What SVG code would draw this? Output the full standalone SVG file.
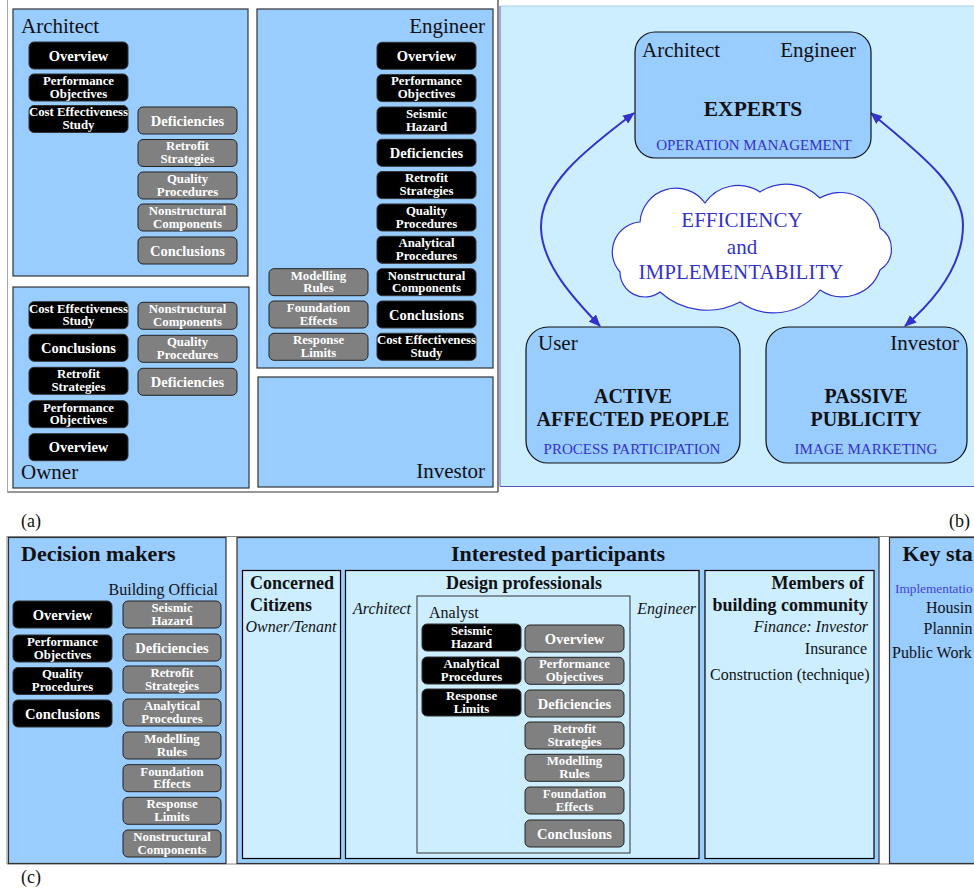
<svg xmlns="http://www.w3.org/2000/svg" width="974" height="889" viewBox="0 0 974 889">
<defs>
<style>
text{font-family:"Liberation Serif","Times New Roman",serif;}
.p1{fill:#99ccff;stroke:#333;stroke-width:1.2}
.p2{fill:#cceeff;stroke:#000;stroke-width:1.2}
.bk{fill:#000;stroke:#333;stroke-width:1}
.gy{fill:#808080;stroke:#222;stroke-width:1}
.t1{font-size:14.5px;font-weight:bold;fill:#fff;text-anchor:middle}
.t2{font-size:12.8px;font-weight:bold;fill:#fff;text-anchor:middle}
.lbl{font-size:21px;fill:#111}
.big{font-size:20px;font-weight:bold;fill:#111;text-anchor:middle}
.blue{font-size:15px;fill:#3333cc;text-anchor:middle}
.cl{font-size:21px;fill:#3333cc;text-anchor:middle}
.h1{font-size:22px;font-weight:bold;fill:#111}
.h2{font-size:18px;font-weight:bold;fill:#111}
.r16{font-size:16px;fill:#111}
.i16{font-size:16px;font-style:italic;fill:#111}
.cap{font-size:18px;fill:#111}
.arr{fill:none;stroke:#3333cc;stroke-width:2}
</style>
<marker id="ah" viewBox="0 0 12 10" refX="11" refY="5" markerWidth="12" markerHeight="10" markerUnits="userSpaceOnUse" orient="auto-start-reverse">
<path d="M0,0 L12,5 L0,10 z" fill="#3333cc"/>
</marker>
</defs>
<rect width="974" height="889" fill="#fff"/>

<!-- (a) frame -->
<g id="frame-a">
<line x1="7.5" y1="0" x2="7.5" y2="492" stroke="#aaa" stroke-width="1"/>
<line x1="7.5" y1="492" x2="498" y2="492" stroke="#333" stroke-width="1.2"/>
<line x1="498" y1="0" x2="498" y2="492" stroke="#333" stroke-width="1.2"/>
</g>

<g id="panel-architect">
<rect class="p1" x="13" y="9" width="235" height="267"/>
<text class="lbl" x="21" y="33">Architect</text>
</g>
<g id="a-arch-overview"><rect class="bk" x="29" y="42" width="99" height="27" rx="5"/><text class="t1" x="78.5" y="60.5">Overview</text></g>
<g id="a-arch-perf"><rect class="bk" x="29" y="74" width="99" height="27" rx="5"/><text class="t2" x="78.5" y="84.8">Performance</text><text class="t2" x="78.5" y="97.5">Objectives</text></g>
<g id="a-arch-cost"><rect class="bk" x="29" y="105.5" width="99" height="27" rx="5"/><text class="t2" x="78.5" y="116.3">Cost Effectiveness</text><text class="t2" x="78.5" y="129">Study</text></g>
<g id="a-arch-def"><rect class="gy" x="138" y="107" width="99" height="27" rx="5"/><text class="t1" x="187.5" y="125.5">Deficiencies</text></g>
<g id="a-arch-retro"><rect class="gy" x="138" y="139.5" width="99" height="27" rx="5"/><text class="t2" x="187.5" y="150.3">Retrofit</text><text class="t2" x="187.5" y="163">Strategies</text></g>
<g id="a-arch-qual"><rect class="gy" x="138" y="172" width="99" height="27" rx="5"/><text class="t2" x="187.5" y="182.8">Quality</text><text class="t2" x="187.5" y="195.5">Procedures</text></g>
<g id="a-arch-nonstr"><rect class="gy" x="138" y="204" width="99" height="27" rx="5"/><text class="t2" x="187.5" y="214.8">Nonstructural</text><text class="t2" x="187.5" y="227.5">Components</text></g>
<g id="a-arch-concl"><rect class="gy" x="138" y="237" width="99" height="27" rx="5"/><text class="t1" x="187.5" y="255.5">Conclusions</text></g>

<g id="panel-engineer">
<rect class="p1" x="257" y="9" width="236" height="359"/>
<text class="lbl" x="485" y="33" text-anchor="end">Engineer</text>
</g>
<g id="a-eng-overview"><rect class="bk" x="377" y="42.3" width="99" height="27" rx="5"/><text class="t1" x="426.5" y="60.8">Overview</text></g>
<g id="a-eng-perf"><rect class="bk" x="377" y="74.6" width="99" height="27" rx="5"/><text class="t2" x="426.5" y="85.4">Performance</text><text class="t2" x="426.5" y="98.1">Objectives</text></g>
<g id="a-eng-seis"><rect class="bk" x="377" y="107" width="99" height="27" rx="5"/><text class="t2" x="426.5" y="117.8">Seismic</text><text class="t2" x="426.5" y="130.5">Hazard</text></g>
<g id="a-eng-def"><rect class="bk" x="377" y="139.3" width="99" height="27" rx="5"/><text class="t1" x="426.5" y="157.8">Deficiencies</text></g>
<g id="a-eng-retro"><rect class="bk" x="377" y="171.6" width="99" height="27" rx="5"/><text class="t2" x="426.5" y="182.4">Retrofit</text><text class="t2" x="426.5" y="195.1">Strategies</text></g>
<g id="a-eng-qual"><rect class="bk" x="377" y="204" width="99" height="27" rx="5"/><text class="t2" x="426.5" y="214.8">Quality</text><text class="t2" x="426.5" y="227.5">Procedures</text></g>
<g id="a-eng-anal"><rect class="bk" x="377" y="236.3" width="99" height="27" rx="5"/><text class="t2" x="426.5" y="247.1">Analytical</text><text class="t2" x="426.5" y="259.8">Procedures</text></g>
<g id="a-eng-nonstr"><rect class="bk" x="377" y="268.7" width="99" height="27" rx="5"/><text class="t2" x="426.5" y="279.5">Nonstructural</text><text class="t2" x="426.5" y="292.2">Components</text></g>
<g id="a-eng-concl"><rect class="bk" x="377" y="301" width="99" height="27" rx="5"/><text class="t1" x="426.5" y="319.5">Conclusions</text></g>
<g id="a-eng-cost"><rect class="bk" x="377" y="333.3" width="99" height="27" rx="5"/><text class="t2" x="426.5" y="344.1">Cost Effectiveness</text><text class="t2" x="426.5" y="356.8">Study</text></g>
<g id="a-eng-model"><rect class="gy" x="269" y="268.7" width="99" height="27" rx="5"/><text class="t2" x="318.5" y="279.5">Modelling</text><text class="t2" x="318.5" y="292.2">Rules</text></g>
<g id="a-eng-found"><rect class="gy" x="269" y="301" width="99" height="27" rx="5"/><text class="t2" x="318.5" y="311.8">Foundation</text><text class="t2" x="318.5" y="324.5">Effects</text></g>
<g id="a-eng-resp"><rect class="gy" x="269" y="333.3" width="99" height="27" rx="5"/><text class="t2" x="318.5" y="344.1">Response</text><text class="t2" x="318.5" y="356.8">Limits</text></g>

<g id="panel-investor-a">
<rect class="p1" x="258" y="377" width="235" height="110"/>
<text class="lbl" x="485" y="478" text-anchor="end">Investor</text>
</g>

<g id="panel-owner">
<rect class="p1" x="13" y="287" width="236" height="201"/>
<text class="lbl" x="21" y="479">Owner</text>
</g>
<g id="a-own-cost"><rect class="bk" x="29" y="301.7" width="99" height="27" rx="5"/><text class="t2" x="78.5" y="312.5">Cost Effectiveness</text><text class="t2" x="78.5" y="325.2">Study</text></g>
<g id="a-own-concl"><rect class="bk" x="29" y="334.3" width="99" height="27" rx="5"/><text class="t1" x="78.5" y="352.8">Conclusions</text></g>
<g id="a-own-retro"><rect class="bk" x="29" y="367.3" width="99" height="27" rx="5"/><text class="t2" x="78.5" y="378.1">Retrofit</text><text class="t2" x="78.5" y="390.8">Strategies</text></g>
<g id="a-own-perf"><rect class="bk" x="29" y="400.7" width="99" height="27" rx="5"/><text class="t2" x="78.5" y="411.5">Performance</text><text class="t2" x="78.5" y="424.2">Objectives</text></g>
<g id="a-own-overview"><rect class="bk" x="29" y="433.7" width="99" height="27" rx="5"/><text class="t1" x="78.5" y="452.2">Overview</text></g>
<g id="a-own-nonstr"><rect class="gy" x="138" y="302.3" width="99" height="27" rx="5"/><text class="t2" x="187.5" y="313.1">Nonstructural</text><text class="t2" x="187.5" y="325.8">Components</text></g>
<g id="a-own-qual"><rect class="gy" x="138" y="335.3" width="99" height="27" rx="5"/><text class="t2" x="187.5" y="346.1">Quality</text><text class="t2" x="187.5" y="358.8">Procedures</text></g>
<g id="a-own-def"><rect class="gy" x="138" y="368.3" width="99" height="27" rx="5"/><text class="t1" x="187.5" y="386.8">Deficiencies</text></g>

<text class="cap" x="21" y="527">(a)</text>

<!-- (b) -->
<g id="panel-b">
<rect x="500" y="6" width="480" height="480" fill="#cceeff"/>
<line x1="500" y1="6" x2="974" y2="6" stroke="#aaccf0" stroke-width="1"/>
<line x1="500" y1="6" x2="500" y2="486.5" stroke="#7777cc" stroke-width="1.2"/>
<line x1="500" y1="486.5" x2="974" y2="486.5" stroke="#5555bb" stroke-width="1.2"/>
</g>
<g id="connectors">
<path class="arr" d="M634,113 C585,150 540,185 541,228 C542,265 575,300 600,326" marker-start="url(#ah)" marker-end="url(#ah)"/>
<path class="arr" d="M871,113 C915,150 963,185 963,225 C963,265 935,300 905,326" marker-start="url(#ah)" marker-end="url(#ah)"/>
</g>
<g id="b-experts">
<rect x="635" y="32" width="236" height="126" rx="20" fill="#99ccff" stroke="#111" stroke-width="1.2"/>
<text class="lbl" x="642" y="57">Architect</text>
<text class="lbl" x="856" y="57" text-anchor="end">Engineer</text>
<text x="753" y="116" font-size="21.5" font-weight="bold" fill="#111" text-anchor="middle">EXPERTS</text>
<text class="blue" x="754" y="150">OPERATION MANAGEMENT</text>
</g>
<g id="b-cloud">
<path d="M620,272 A30,30 0 0 1 640,222 A36,36 0 0 1 705,203 A40,40 0 0 1 760,192 A48,48 0 0 1 820,198 A40,40 0 0 1 880,228 A25,25 0 0 1 880,270 A40,40 0 0 1 820,290 A58,58 0 0 1 740,302 A70,70 0 0 1 660,292 A25,25 0 0 1 620,272 Z" fill="#fff" stroke="#3333cc" stroke-width="1.2"/>
<text class="cl" x="742" y="227">EFFICIENCY</text>
<text class="cl" x="742" y="254">and</text>
<text class="cl" x="741" y="279">IMPLEMENTABILITY</text>
</g>
<g id="b-user">
<rect x="526" y="327" width="214" height="136" rx="22" fill="#99ccff" stroke="#111" stroke-width="1.2"/>
<text class="lbl" x="538" y="350">User</text>
<text class="big" x="633" y="403">ACTIVE</text>
<text class="big" x="633" y="426">AFFECTED PEOPLE</text>
<text class="blue" x="632" y="454">PROCESS PARTICIPATION</text>
</g>
<g id="b-investor">
<rect x="766" y="327" width="201" height="136" rx="22" fill="#99ccff" stroke="#111" stroke-width="1.2"/>
<text class="lbl" x="959" y="350" text-anchor="end">Investor</text>
<text class="big" x="866" y="403">PASSIVE</text>
<text class="big" x="866" y="426">PUBLICITY</text>
<text class="blue" x="866" y="454">IMAGE MARKETING</text>
</g>
<text class="cap" x="970" y="527" text-anchor="end">(b)</text>

<!-- (c) -->
<g id="frame-c">
<line x1="7" y1="536.5" x2="974" y2="536.5" stroke="#888" stroke-width="1"/>
<line x1="7" y1="536.5" x2="7" y2="864" stroke="#888" stroke-width="1"/>
<line x1="7" y1="864" x2="974" y2="864" stroke="#888" stroke-width="1"/>
</g>
<g id="panel-decision">
<rect class="p1" x="8.5" y="537.5" width="217.5" height="326"/>
<text class="h1" x="21" y="561">Decision makers</text>
<text class="r16" x="218" y="594.5" text-anchor="end">Building Official</text>
</g>
<g id="c-dm-overview"><rect class="bk" x="13" y="601" width="99" height="27" rx="5"/><text class="t1" x="62.5" y="619.5">Overview</text></g>
<g id="c-dm-perf"><rect class="bk" x="13" y="635" width="99" height="27" rx="5"/><text class="t2" x="62.5" y="645.8">Performance</text><text class="t2" x="62.5" y="658.5">Objectives</text></g>
<g id="c-dm-qual"><rect class="bk" x="13" y="667.5" width="99" height="27" rx="5"/><text class="t2" x="62.5" y="678.3">Quality</text><text class="t2" x="62.5" y="691">Procedures</text></g>
<g id="c-dm-concl"><rect class="bk" x="13" y="700" width="99" height="27" rx="5"/><text class="t1" x="62.5" y="718.5">Conclusions</text></g>
<g id="c-dm-seis"><rect class="gy" x="123" y="601" width="98" height="27" rx="5"/><text class="t2" x="172" y="611.8">Seismic</text><text class="t2" x="172" y="624.5">Hazard</text></g>
<g id="c-dm-def"><rect class="gy" x="123" y="634" width="98" height="27" rx="5"/><text class="t1" x="172" y="652.5">Deficiencies</text></g>
<g id="c-dm-retro"><rect class="gy" x="123" y="666" width="98" height="27" rx="5"/><text class="t2" x="172" y="676.8">Retrofit</text><text class="t2" x="172" y="689.5">Strategies</text></g>
<g id="c-dm-anal"><rect class="gy" x="123" y="699" width="98" height="27" rx="5"/><text class="t2" x="172" y="709.8">Analytical</text><text class="t2" x="172" y="722.5">Procedures</text></g>
<g id="c-dm-model"><rect class="gy" x="123" y="732" width="98" height="27" rx="5"/><text class="t2" x="172" y="742.8">Modelling</text><text class="t2" x="172" y="755.5">Rules</text></g>
<g id="c-dm-found"><rect class="gy" x="123" y="764.7" width="98" height="27" rx="5"/><text class="t2" x="172" y="775.5">Foundation</text><text class="t2" x="172" y="788.2">Effects</text></g>
<g id="c-dm-resp"><rect class="gy" x="123" y="797.3" width="98" height="27" rx="5"/><text class="t2" x="172" y="808.1">Response</text><text class="t2" x="172" y="820.8">Limits</text></g>
<g id="c-dm-nonstr"><rect class="gy" x="123" y="830" width="98" height="27" rx="5"/><text class="t2" x="172" y="840.8">Nonstructural</text><text class="t2" x="172" y="853.5">Components</text></g>

<g id="panel-interested">
<rect class="p1" x="237" y="537.5" width="642" height="326"/>
<text class="h1" x="558" y="561" text-anchor="middle">Interested participants</text>
</g>
<g id="c-citizens">
<rect class="p2" x="242.5" y="570.5" width="98" height="288"/>
<text class="h2" x="250" y="589">Concerned</text>
<text class="h2" x="250" y="611">Citizens</text>
<text class="i16" x="245.5" y="632">Owner/Tenant</text>
</g>
<g id="c-design">
<rect class="p2" x="345.5" y="570.5" width="353.5" height="288"/>
<text class="h2" x="524" y="588.5" text-anchor="middle">Design professionals</text>
<text class="i16" x="353" y="614">Architect</text>
<text class="i16" x="696" y="614" text-anchor="end">Engineer</text>
</g>
<g id="c-analyst">
<rect x="417" y="596" width="213" height="257" fill="#cceeff" stroke="#333" stroke-width="1"/>
<text class="r16" x="429" y="618">Analyst</text>
</g>
<g id="c-an-seis"><rect class="bk" x="422" y="624" width="99" height="27" rx="5"/><text class="t2" x="471.5" y="634.8">Seismic</text><text class="t2" x="471.5" y="647.5">Hazard</text></g>
<g id="c-an-anal"><rect class="bk" x="422" y="657" width="99" height="27" rx="5"/><text class="t2" x="471.5" y="667.8">Analytical</text><text class="t2" x="471.5" y="680.5">Procedures</text></g>
<g id="c-an-resp"><rect class="bk" x="422" y="689" width="99" height="27" rx="5"/><text class="t2" x="471.5" y="699.8">Response</text><text class="t2" x="471.5" y="712.5">Limits</text></g>
<g id="c-an-overview"><rect class="gy" x="525" y="625" width="99" height="27" rx="5"/><text class="t1" x="574.5" y="643.5">Overview</text></g>
<g id="c-an-perf"><rect class="gy" x="525" y="657.3" width="99" height="27" rx="5"/><text class="t2" x="574.5" y="668.1">Performance</text><text class="t2" x="574.5" y="680.8">Objectives</text></g>
<g id="c-an-def"><rect class="gy" x="525" y="690" width="99" height="27" rx="5"/><text class="t1" x="574.5" y="708.5">Deficiencies</text></g>
<g id="c-an-retro"><rect class="gy" x="525" y="722" width="99" height="27" rx="5"/><text class="t2" x="574.5" y="732.8">Retrofit</text><text class="t2" x="574.5" y="745.5">Strategies</text></g>
<g id="c-an-model"><rect class="gy" x="525" y="754.3" width="99" height="27" rx="5"/><text class="t2" x="574.5" y="765.1">Modelling</text><text class="t2" x="574.5" y="777.8">Rules</text></g>
<g id="c-an-found"><rect class="gy" x="525" y="787" width="99" height="27" rx="5"/><text class="t2" x="574.5" y="797.8">Foundation</text><text class="t2" x="574.5" y="810.5">Effects</text></g>
<g id="c-an-concl"><rect class="gy" x="525" y="820" width="99" height="27" rx="5"/><text class="t1" x="574.5" y="838.5">Conclusions</text></g>

<g id="c-members">
<rect class="p2" x="705" y="570.5" width="169" height="288"/>
<text class="h2" x="864" y="589" text-anchor="end">Members of</text>
<text class="h2" x="868" y="611" text-anchor="end">building community</text>
<text class="i16" x="868" y="632" text-anchor="end">Finance: Investor</text>
<text class="r16" x="867" y="654" text-anchor="end">Insurance</text>
<text class="r16" x="710" y="680">Construction (technique)</text>
</g>

<g id="panel-keystaff">
<rect class="p1" x="889.5" y="537.5" width="100" height="326"/>
<text class="h1" x="902.5" y="561">Key sta</text>
<text x="895" y="593" font-size="13.3" fill="#4444dd">Implementatio</text>
<text class="r16" x="926" y="613">Housin</text>
<text class="r16" x="923.5" y="634">Plannin</text>
<text class="r16" x="892" y="658">Public Work</text>
</g>
<text class="cap" x="21" y="883">(c)</text>
</svg>
